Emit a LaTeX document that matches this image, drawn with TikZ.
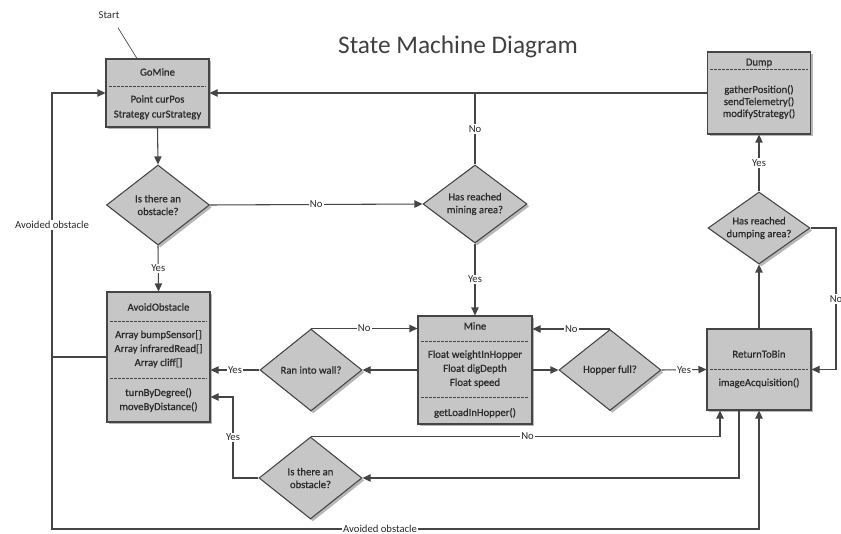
\documentclass[tikz,border=0pt]{standalone}
\usepackage{fontspec}
\setmainfont{Carlito}
\newfontfamily\heavyfont{Carlito}[FakeBold=0.7]
\usetikzlibrary{shapes.geometric,arrows.meta,shadows,calc}
\definecolor{boxc}{HTML}{C6C6C6}
\definecolor{lnc}{HTML}{454545}
\definecolor{txc}{HTML}{2A2A2A}
\begin{document}
\begin{tikzpicture}[x=0.75pt,y=-0.75pt,
  sz/.style 2 args={minimum width=#1*0.75pt, minimum height=#2*0.75pt},
  shd/.style={drop shadow={shadow xshift=1.8pt, shadow yshift=-1.8pt, fill=black!40, opacity=0.7}},
  box/.style={rectangle, draw=lnc, fill=boxc, line width=0.8pt, inner sep=0pt, shd},
  dia/.style={diamond, draw=lnc, fill=boxc, line width=0.8pt, inner sep=0pt, shd},
  txt/.style={font=\heavyfont\fontsize{8}{9.6}\selectfont, text=txc, inner sep=0pt, align=center},
  lbl/.style={font=\fontsize{8}{9.6}\selectfont, text=txc, fill=white, inner sep=1pt},
  ln/.style={draw=lnc, line width=0.8pt},
  arr/.style={ln, -{Triangle[length=6pt,width=5.5pt]}},
  sep/.style={draw=lnc, line width=0.6pt, dash pattern=on 2pt off 1pt},
  ttl/.style={font=\fontsize{19}{22}\selectfont, text=black!75, inner sep=0pt}]
\useasboundingbox (0,0) rectangle (841,534);

% title and start
\node[ttl] (title) at (458,47) {State Machine Diagram};
\node[lbl, fill=none, inner sep=0pt] (start) at (109,15) {Start};

% boxes
\node[box, sz={103}{68}] (gomine) at (157.5,93) {};
\node[box, sz={103}{82}] (dump) at (759,93) {};
\node[box, sz={103}{130}] (avoid) at (158.5,357) {};
\node[box, sz={114}{108}] (mine) at (475,370) {};
\node[box, sz={104}{81}] (rtb) at (759,369.5) {};

% diamonds
\node[dia, sz={103}{80}] (d1) at (158,205) {};
\node[dia, sz={104}{78}] (d2) at (475,204) {};
\node[dia, sz={102}{72}] (dd) at (759,228) {};
\node[dia, sz={102}{82}] (wall) at (311,370) {};
\node[dia, sz={102}{81}] (hopper) at (610,370) {};
\node[dia, sz={103}{82}] (ob2) at (310.5,478) {};

% box texts
\node[txt] (t-gm1) at (157.5,72) {GoMine};
\draw[sep] (109,86) -- (206,86);
\node[txt] (t-gm2) at (157.5,99) {Point curPos};
\node[txt] (t-gm3) at (157.5,115) {Strategy curStrategy};

\node[txt] (t-dp1) at (759,63) {Dump};
\draw[sep] (710,69) -- (808,69);
\node[txt] (t-dp2) at (759,90) {gatherPosition()};
\node[txt] (t-dp3) at (759,102) {sendTelemetry()};
\node[txt] (t-dp4) at (759,114) {modifyStrategy()};

\node[txt] (t-av1) at (158.5,307) {AvoidObstacle};
\draw[sep] (110,321) -- (207,321);
\node[txt] (t-av2) at (158.5,335) {Array bumpSensor[]};
\node[txt] (t-av3) at (158.5,349) {Array infraredRead[]};
\node[txt] (t-av4) at (158.5,363) {Array cliff[]};
\draw[sep] (110,378) -- (207,378);
\node[txt] (t-av5) at (158.5,393) {turnByDegree()};
\node[txt] (t-av6) at (158.5,407) {moveByDistance()};

\node[txt] (t-mn1) at (475,326) {Mine};
\draw[sep] (421,341) -- (529,341);
\node[txt] (t-mn2) at (475,355) {Float weightInHopper};
\node[txt] (t-mn3) at (475,369) {Float digDepth};
\node[txt] (t-mn4) at (475,383) {Float speed};
\draw[sep] (421,397) -- (529,397);
\node[txt] (t-mn5) at (475,413) {getLoadInHopper()};

\node[txt] (t-rb1) at (759,354) {ReturnToBin};
\draw[sep] (710,369) -- (808,369);
\node[txt] (t-rb2) at (759,383) {imageAcquisition()};

% diamond texts
\node[txt] (t-d1) at (d1) {Is there an\\obstacle?};
\node[txt] (t-d2) at (d2) {Has reached\\mining area?};
\node[txt] (t-dd) at (dd) {Has reached\\dumping area?};
\node[txt] (t-wall) at (wall) {Ran into wall?};
\node[txt] (t-hop) at (hopper) {Hopper full?};
\node[txt] (t-ob2) at (ob2) {Is there an\\obstacle?};

% start pointer
\draw[draw=lnc, line width=0.5pt] ($(start.south)+(9,9)$) -- ($(gomine.north)+(-20.5,0)$);

% connectors
\draw[arr] (gomine.south) -- (d1.north);
\draw[arr] (d1.east) -- node[lbl]{No} (d2.west);
\draw[arr] (d1.south) -- node[lbl]{Yes} (avoid.north);
\draw[arr] (dump.west) -- (gomine.east);
\draw[ln] (d2.north) -- node[lbl]{No} (d2.north |- gomine.east);
\draw[arr] (d2.south) -- node[lbl]{Yes} (mine.north);
\draw[arr] (mine.west) -- (wall.east);
\draw[arr] (wall.west) -- node[lbl]{Yes} (wall.west -| avoid.east);
\draw[arr] (wall.north) -- node[lbl]{No} (wall.north -| mine.west);
\draw[arr] (mine.east) -- (hopper.west);
\draw[arr] (hopper.north) -- node[lbl]{No} (hopper.north -| mine.east);
\draw[arr] (hopper.east) -- node[lbl]{Yes} (rtb.west);
\draw[arr] (rtb.north) -- (dd.south);
\draw[arr] (dd.north) -- node[lbl]{Yes} (dump.south);

\coordinate (nr) at (836,228);
\draw[arr] (dd.east) -- (nr) -- node[lbl]{No} (nr |- rtb.east) -- (rtb.east);

\coordinate (ra) at ($(rtb.south)+(-39,0)$);
\draw[arr] (ob2.north) -- node[lbl,pos=0.53]{No} (ob2.north -| ra) -- (ra);
\coordinate (rb) at ($(rtb.south)+(-20,0)$);
\draw[arr] (rb) -- (rb |- ob2.east) -- (ob2.east);

\coordinate (ya) at (233,478);
\coordinate (yb) at (233,397);
\draw[arr] (ob2.west) -- (ya) -- node[lbl]{Yes} (yb) -- (yb -| avoid.east);

\coordinate (lt) at (52,93);
\coordinate (lj) at (52,357);
\coordinate (lb) at (52,529);
\draw[arr] (avoid.west) -- (lj) -- node[lbl]{Avoided obstacle} (lt) -- (gomine.west);
\draw[arr] (lj) -- (lb) -- node[lbl,pos=0.464]{Avoided obstacle} (lb -| rtb.south) -- (rtb.south);
\end{tikzpicture}
\end{document}
